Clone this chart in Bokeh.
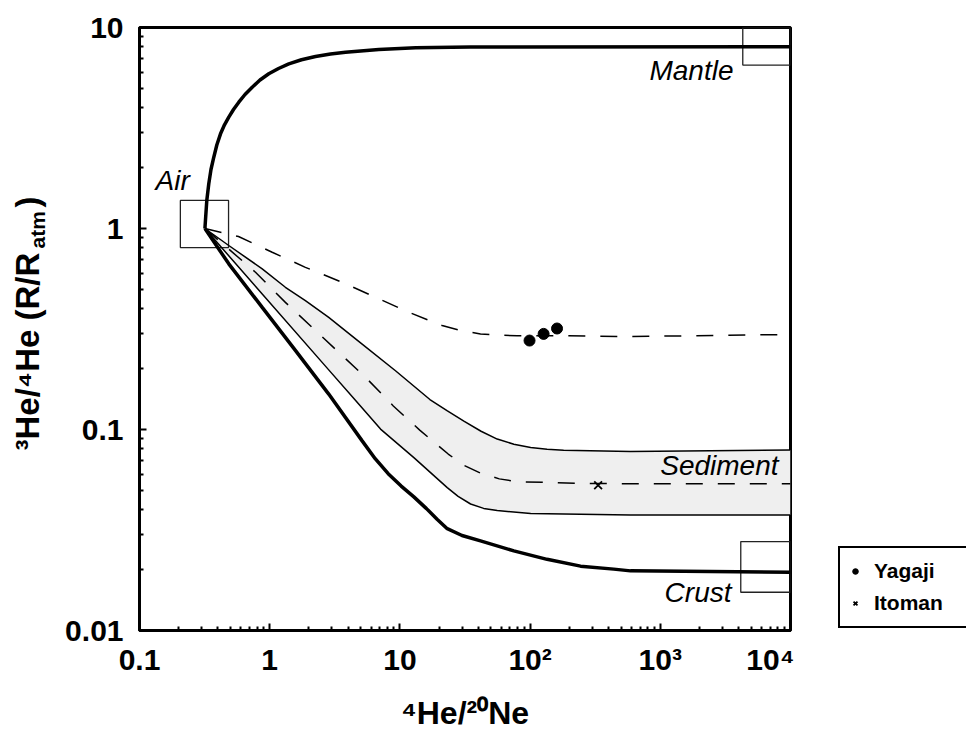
from bokeh.plotting import figure
from bokeh.models import Range1d, FixedTicker, Label, Legend, LegendItem
from bokeh.layouts import row
from bokeh.embed import file_html
from bokeh.resources import INLINE

# ---------------- data ----------------
mantle_x = [0.318, 0.321, 0.3287, 0.3405, 0.354, 0.372, 0.3925, 0.419, 0.4496, 0.485, 0.5272, 0.579,
            0.6461, 0.734, 0.8423, 0.984, 1.169, 1.402, 1.754, 2.248, 2.931, 3.819, 6.89, 13.2, 34.9, 10000]
mantle_y = [1.0, 1.096, 1.378, 1.669, 1.966, 2.263, 2.603, 2.958, 3.281, 3.579, 3.908, 4.250,
            4.642, 5.047, 5.481, 5.885, 6.252, 6.598, 6.908, 7.173, 7.382, 7.535, 7.773, 7.925, 7.99, 8.02]

crust_x = [0.318, 0.485, 0.876, 1.58, 2.84, 5.13, 6.46, 8.13, 10.23, 12.8, 16, 19.3, 23.1, 30, 41.6,
           75, 135, 244, 439, 590, 10000]
crust_y = [1.0, 0.667, 0.405, 0.247, 0.150, 0.0878, 0.0716, 0.0603, 0.0523, 0.0462, 0.0404, 0.0358,
           0.0321, 0.0297, 0.0279, 0.0249, 0.0226, 0.0209, 0.0202, 0.0198, 0.0195]

sed_hi_x = [0.318, 0.485, 0.876, 1.32, 1.88, 2.84, 5.13, 9.25, 17, 23, 31, 42, 55.9, 75, 101, 135, 181, 590, 10000]
sed_hi_y = [1.0, 0.823, 0.630, 0.510, 0.438, 0.361, 0.266, 0.196, 0.141, 0.124, 0.110, 0.098, 0.0896,
            0.0845, 0.0813, 0.0798, 0.0789, 0.0777, 0.079]

sed_lo_x = [0.318, 0.876, 2.84, 4.5, 7.1, 12.8, 23.1, 28, 34.9, 44, 55.9, 101, 590, 10000]
sed_lo_y = [1.0, 0.472, 0.198, 0.141, 0.1005, 0.0725, 0.0514, 0.0465, 0.0426, 0.0405, 0.0395, 0.0382,
            0.0376, 0.0376]

sed_mid_x = [0.318, 0.778, 1.32, 2.12, 3.39, 5.44, 8.9, 14.2, 23.5, 31, 41.6, 58, 79.6, 152, 308, 10000]
sed_mid_y = [1.0, 0.606, 0.429, 0.322, 0.242, 0.182, 0.131, 0.0993, 0.0755, 0.0663, 0.0607, 0.0568,
             0.0550, 0.0544, 0.0538, 0.0537]

upper_x = [0.318, 0.576, 1.045, 1.88, 3.60, 6.49, 11.7, 21.1, 28, 41.6, 55, 79.6, 171, 590, 10000]
upper_y = [1.0, 0.912, 0.762, 0.641, 0.540, 0.455, 0.383, 0.329, 0.313, 0.299, 0.295, 0.293, 0.293,
           0.290, 0.297]

yagaji_x = [99, 127, 161]
yagaji_y = [0.277, 0.299, 0.318]
itoman_x = [333]
itoman_y = [0.0528]

# end-member boxes: left, right, bottom, top
air_box = [0.206, 0.483, 0.804, 1.38]
mantle_box = [4300, 10000, 6.5, 10]
crust_box = [4150, 10000, 0.0155, 0.0277]

x_ticks = [0.1, 1, 10, 100, 1000, 10000]
x_tick_labels = ["0.1", "1", "10", "10²", "10³", "10⁴"]
y_ticks = [0.01, 0.1, 1, 10]
y_tick_labels = ["0.01", "0.1", "1", "10"]

FONT = "Liberation Sans"
H = 749
TOP, BOTTOM, FH = 27, 119, 603      # shared frame geometry of the three panels
LW = 60                              # width of the y-title strip
MAIN_LEFT, FW, MAIN_RIGHT = 139 - LW, 651, 4
RW = 966 - LW - (MAIN_LEFT + FW + MAIN_RIGHT)

# ---------------- helpers for in-plot text placement (page px -> data) ----------------
def xd(px):
    return 10 ** (-1 + (px - 139) / 130.2)

def yd(py):
    return 10 ** (-2 + (630 - py) / 201.0)

def strip(width):
    f = figure(frame_width=width, frame_height=FH, x_range=Range1d(0, width),
               y_range=Range1d(BOTTOM, H - TOP), output_backend="svg", toolbar_location=None,
               min_border_left=0, min_border_right=0, min_border_top=TOP, min_border_bottom=BOTTOM,
               x_axis_location=None, y_axis_location=None)
    f.outline_line_color = None
    f.xgrid.visible = False
    f.ygrid.visible = False
    return f

# ---------------- left strip: y-axis title ----------------
ylab = strip(LW)

def ytext(bx, py, text, size_px):
    # bx: page x of the (rotated) baseline; text placed by its middle line
    ylab.add_layout(Label(x=bx - 0.3465 * size_px, y=H - py, text=text, angle=90, angle_units="deg",
                          text_align="left", text_baseline="middle",
                          text_font=FONT, text_font_style="bold", text_font_size=f"{size_px}px",
                          text_color="black"))

ytext(38, 450, "³He/⁴He (R/R", 33)
ytext(44, 248, "atm", 21)
ytext(38, 207, ")", 33)

# ---------------- main plot ----------------
p = figure(frame_width=FW, frame_height=FH, x_axis_type="log", y_axis_type="log",
           x_range=Range1d(0.1, 1e4), y_range=Range1d(0.01, 10),
           output_backend="svg", toolbar_location=None,
           min_border_left=MAIN_LEFT, min_border_right=MAIN_RIGHT,
           min_border_top=TOP, min_border_bottom=BOTTOM)
p.xgrid.visible = False
p.ygrid.visible = False
p.outline_line_color = "black"
p.outline_line_width = 3
p.outline_line_alpha = 1.0
p.background_fill_color = "white"
p.border_fill_color = "white"

x_minor = [m * 10 ** e for e in range(-1, 4) for m in range(2, 10)]
y_minor = [m * 10 ** e for e in range(-2, 1) for m in range(2, 10)]
p.xaxis.ticker = FixedTicker(ticks=x_ticks, minor_ticks=x_minor)
p.yaxis.ticker = FixedTicker(ticks=y_ticks, minor_ticks=y_minor)
p.xaxis.major_label_overrides = {t: l for t, l in zip(x_ticks, x_tick_labels)}
p.yaxis.major_label_overrides = {t: l for t, l in zip(y_ticks, y_tick_labels)}

for ax in (p.xaxis, p.yaxis):
    ax.axis_line_width = 3
    ax.axis_line_color = "black"
    ax.major_tick_in = 7
    ax.major_tick_out = 0
    ax.minor_tick_in = 4
    ax.minor_tick_out = 0
    ax.major_tick_line_width = 2
    ax.minor_tick_line_width = 2
    ax.major_label_text_font = FONT
    ax.major_label_text_font_style = "bold"
    ax.major_label_text_font_size = "30px"
    ax.major_label_text_color = "black"
p.xaxis.major_label_standoff = 12
p.yaxis.major_label_standoff = 16

p.xaxis.axis_label = "⁴He/²⁰Ne"
p.xaxis.axis_label_text_font = FONT
p.xaxis.axis_label_text_font_style = "bold"
p.xaxis.axis_label_text_font_size = "32px"
p.xaxis.axis_label_text_color = "black"
p.xaxis.axis_label_standoff = 16

# sediment band
band_x = sed_hi_x + sed_lo_x[::-1]
band_y = sed_hi_y + sed_lo_y[::-1]
p.patch(band_x, band_y, fill_color="#efefef", line_color=None)

# end-member boxes
for b in (air_box, mantle_box, crust_box):
    p.quad(left=[b[0]], right=[b[1]], bottom=[b[2]], top=[b[3]],
           fill_color=None, line_color="#222222", line_width=1.3)

p.line(sed_hi_x, sed_hi_y, line_color="black", line_width=1.5)
p.line(sed_lo_x, sed_lo_y, line_color="black", line_width=1.5)
p.line(sed_mid_x, sed_mid_y, line_color="black", line_width=1.5, line_dash="17 15")
p.line(upper_x, upper_y, line_color="black", line_width=1.5, line_dash="17 15")
p.line(mantle_x, mantle_y, line_color="black", line_width=3.5)
p.line(crust_x, crust_y, line_color="black", line_width=3.5)

p.scatter(yagaji_x, yagaji_y, marker="circle", size=11, fill_color="black", line_color="black")
p.scatter(itoman_x, itoman_y, marker="x", size=11, line_color="black", line_width=1.8)

def add_label(px, py, text, align, size_px=28):
    # py: page y of the text baseline; placed by the middle line
    p.add_layout(Label(x=xd(px), y=yd(py - 0.3465 * size_px), text=text, text_align=align,
                       text_baseline="middle", text_font=FONT, text_font_style="italic",
                       text_font_size=f"{size_px}px", text_color="black"))

add_label(155, 190, "Air", "left")
add_label(733, 80, "Mantle", "right")
add_label(778, 475, "Sediment", "right")
add_label(731, 602, "Crust", "right")

# ---------------- right strip: legend ----------------
leg = strip(RW)
# the legend's own copies of the two series fall below this strip's range, so only their symbols show
g_yag = leg.scatter(yagaji_x, yagaji_y, marker="circle", size=11, fill_color="black", line_color="black")
g_ito = leg.scatter(itoman_x, itoman_y, marker="x", size=11, line_color="black", line_width=1.8)
legend = Legend(items=[LegendItem(label="Yagaji", renderers=[g_yag]),
                       LegendItem(label="Itoman", renderers=[g_ito])],
                location=(838 - (966 - RW), (H - BOTTOM) - 628), margin=0, padding=8, spacing=2,
                glyph_width=14, glyph_height=30, label_height=30, label_standoff=12,
                label_width=110,
                label_text_font=FONT, label_text_font_style="bold", label_text_font_size="21px",
                label_text_color="black",
                border_line_color="black", border_line_width=2.5, border_line_alpha=1.0,
                background_fill_color="white", background_fill_alpha=1.0)
leg.add_layout(legend, "center")

layout = row(ylab, p, leg)
open("out.html", "w").write(file_html(layout, INLINE))
